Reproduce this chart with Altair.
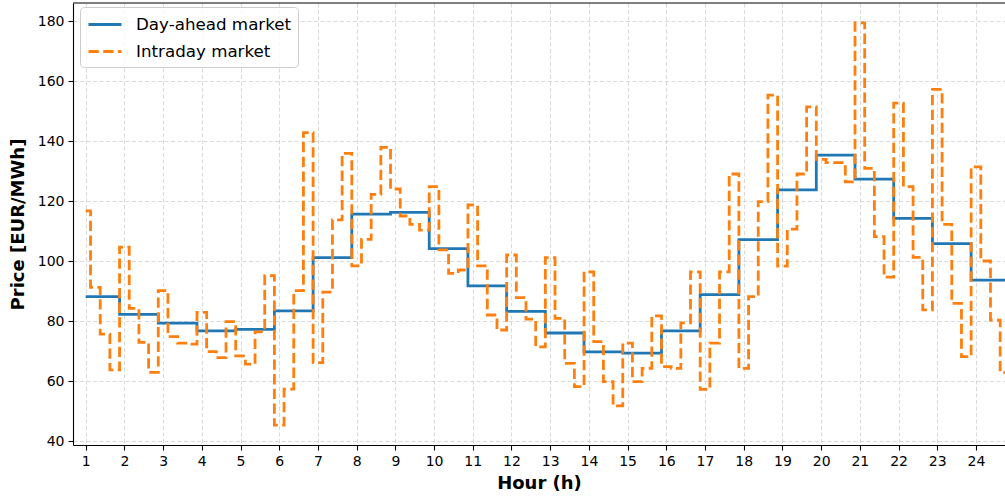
import altair as alt
import pandas as pd

# Hourly day-ahead prices (EUR/MWh), hours 1..24
hours = list(range(1, 25))
day_ahead = [88.1, 82.2, 79.3, 76.7, 77.2, 83.4, 101.1, 115.6, 116.2, 104.1, 91.7, 83.2,
             76.0, 69.7, 69.3, 76.7, 88.8, 107.1, 123.7, 135.3, 127.3, 114.2, 105.8, 93.6]

# Quarter-hourly intraday prices (EUR/MWh), four per hour
intraday = [
    116.7, 91.2, 75.6, 63.7,
    104.6, 84.2, 72.9, 62.9,
    90.1, 74.8, 72.6, 72.3,
    82.9, 69.8, 67.8, 79.8,
    68.4, 65.6, 76.4, 95.1,
    45.3, 57.3, 90.1, 142.8,
    66.1, 89.6, 113.7, 135.9,
    98.4, 107.2, 122.2, 137.9,
    124.0, 115.0, 112.2, 110.3,
    124.8, 103.7, 95.9, 97.0,
    118.7, 98.4, 82.0, 77.0,
    102.0, 87.8, 80.6, 71.4,
    101.1, 80.9, 65.9, 58.1,
    96.4, 73.1, 59.8, 51.7,
    72.6, 59.8, 64.2, 81.7,
    64.8, 64.2, 79.4, 96.4,
    57.2, 72.6, 96.4, 129.0,
    64.2, 88.1, 119.8, 155.3,
    98.3, 110.6, 129.0, 151.4,
    133.9, 132.8, 132.8, 126.4,
    179.4, 130.9, 108.1, 94.6,
    152.6, 124.8, 101.2, 83.7,
    157.2, 112.2, 85.9, 68.1,
    131.4, 100.0, 80.3, 62.8,
]

series_names = ["Day-ahead market", "Intraday market"]
series_colors = ["#1f77b4", "#ff7f0e"]
series_dashes = [[1, 0], [10.3, 4.4]]
y_ticks = [40, 60, 80, 100, 120, 140, 160, 180]

# Both series on a quarter-hour time grid
quarters = [h + q * 0.25 for h in hours for q in range(4)]
da_q = [day_ahead[h - 1] for h in hours for _ in range(4)]

df_da = pd.DataFrame({"hour": quarters, "price": da_q, "series": series_names[0]})
df_id = pd.DataFrame({"hour": quarters, "price": intraday, "series": series_names[1]})

W, H = 932, 442
font = "DejaVu Sans"

x_enc = alt.X("hour:Q",
              scale=alt.Scale(domain=[0.672, 24.75], nice=False, zero=False),
              axis=alt.Axis(values=hours, format="d", title="Hour (h)"))
y_enc = alt.Y("price:Q",
              scale=alt.Scale(domain=[38.67, 186.0], nice=False, zero=False),
              axis=alt.Axis(values=y_ticks, format="d", title="Price [EUR/MWh]"))
color_enc = alt.Color("series:N", title=None,
                      scale=alt.Scale(domain=series_names, range=series_colors))
dash_enc = alt.StrokeDash("series:N", title=None,
                          scale=alt.Scale(domain=series_names, range=series_dashes))

da_line = alt.Chart(df_da).mark_line(interpolate="step", strokeWidth=2.8, clip=True).encode(
    x=x_enc, y=y_enc, color=color_enc, strokeDash=dash_enc)
id_line = alt.Chart(df_id).mark_line(interpolate="step", strokeWidth=2.8, clip=True).encode(
    x=x_enc, y=y_enc, color=color_enc, strokeDash=dash_enc)

top_spine = alt.Chart(pd.DataFrame({"k": [0]})).mark_rule(color="black", strokeWidth=1.1).encode(
    x=alt.value(0), x2=alt.value(W), y=alt.value(0))

chart = alt.layer(da_line, id_line, top_spine).properties(
    width=W, height=H,
    autosize=alt.AutoSizeParams(type="none"),
    padding={"left": 73, "top": 3, "right": 0, "bottom": 53},
).configure_view(
    stroke=None
).configure_axis(
    labelFont=font, labelFontSize=14, labelColor="black",
    titleFont=font, titleFontSize=18, titleFontWeight="bold", titleColor="black",
    domainColor="black", domainWidth=1.1,
    tickColor="black", tickWidth=1.1, tickSize=5,
    labelPadding=4,
    grid=True, gridColor="#cfcfcf", gridWidth=0.8, gridDash=[4, 2.5],
).configure_axisX(
    titlePadding=6,
).configure_axisY(
    titlePadding=10,
).configure_legend(
    orient="none", legendX=7, legendY=4,
    # legend key drawn as a wide horizontal stroke
    symbolType="M-0.9,0H2.4", symbolSize=400, symbolStrokeWidth=2.8,
    labelFont=font, labelFontSize=16.7, labelColor="black", labelOffset=27, labelLimit=0,
    padding=6, rowPadding=6,
    fillColor="rgba(255,255,255,0.8)", strokeColor="#cccccc", cornerRadius=4,
)

chart.save("out.html", embed_options={"renderer": "svg", "actions": False})
